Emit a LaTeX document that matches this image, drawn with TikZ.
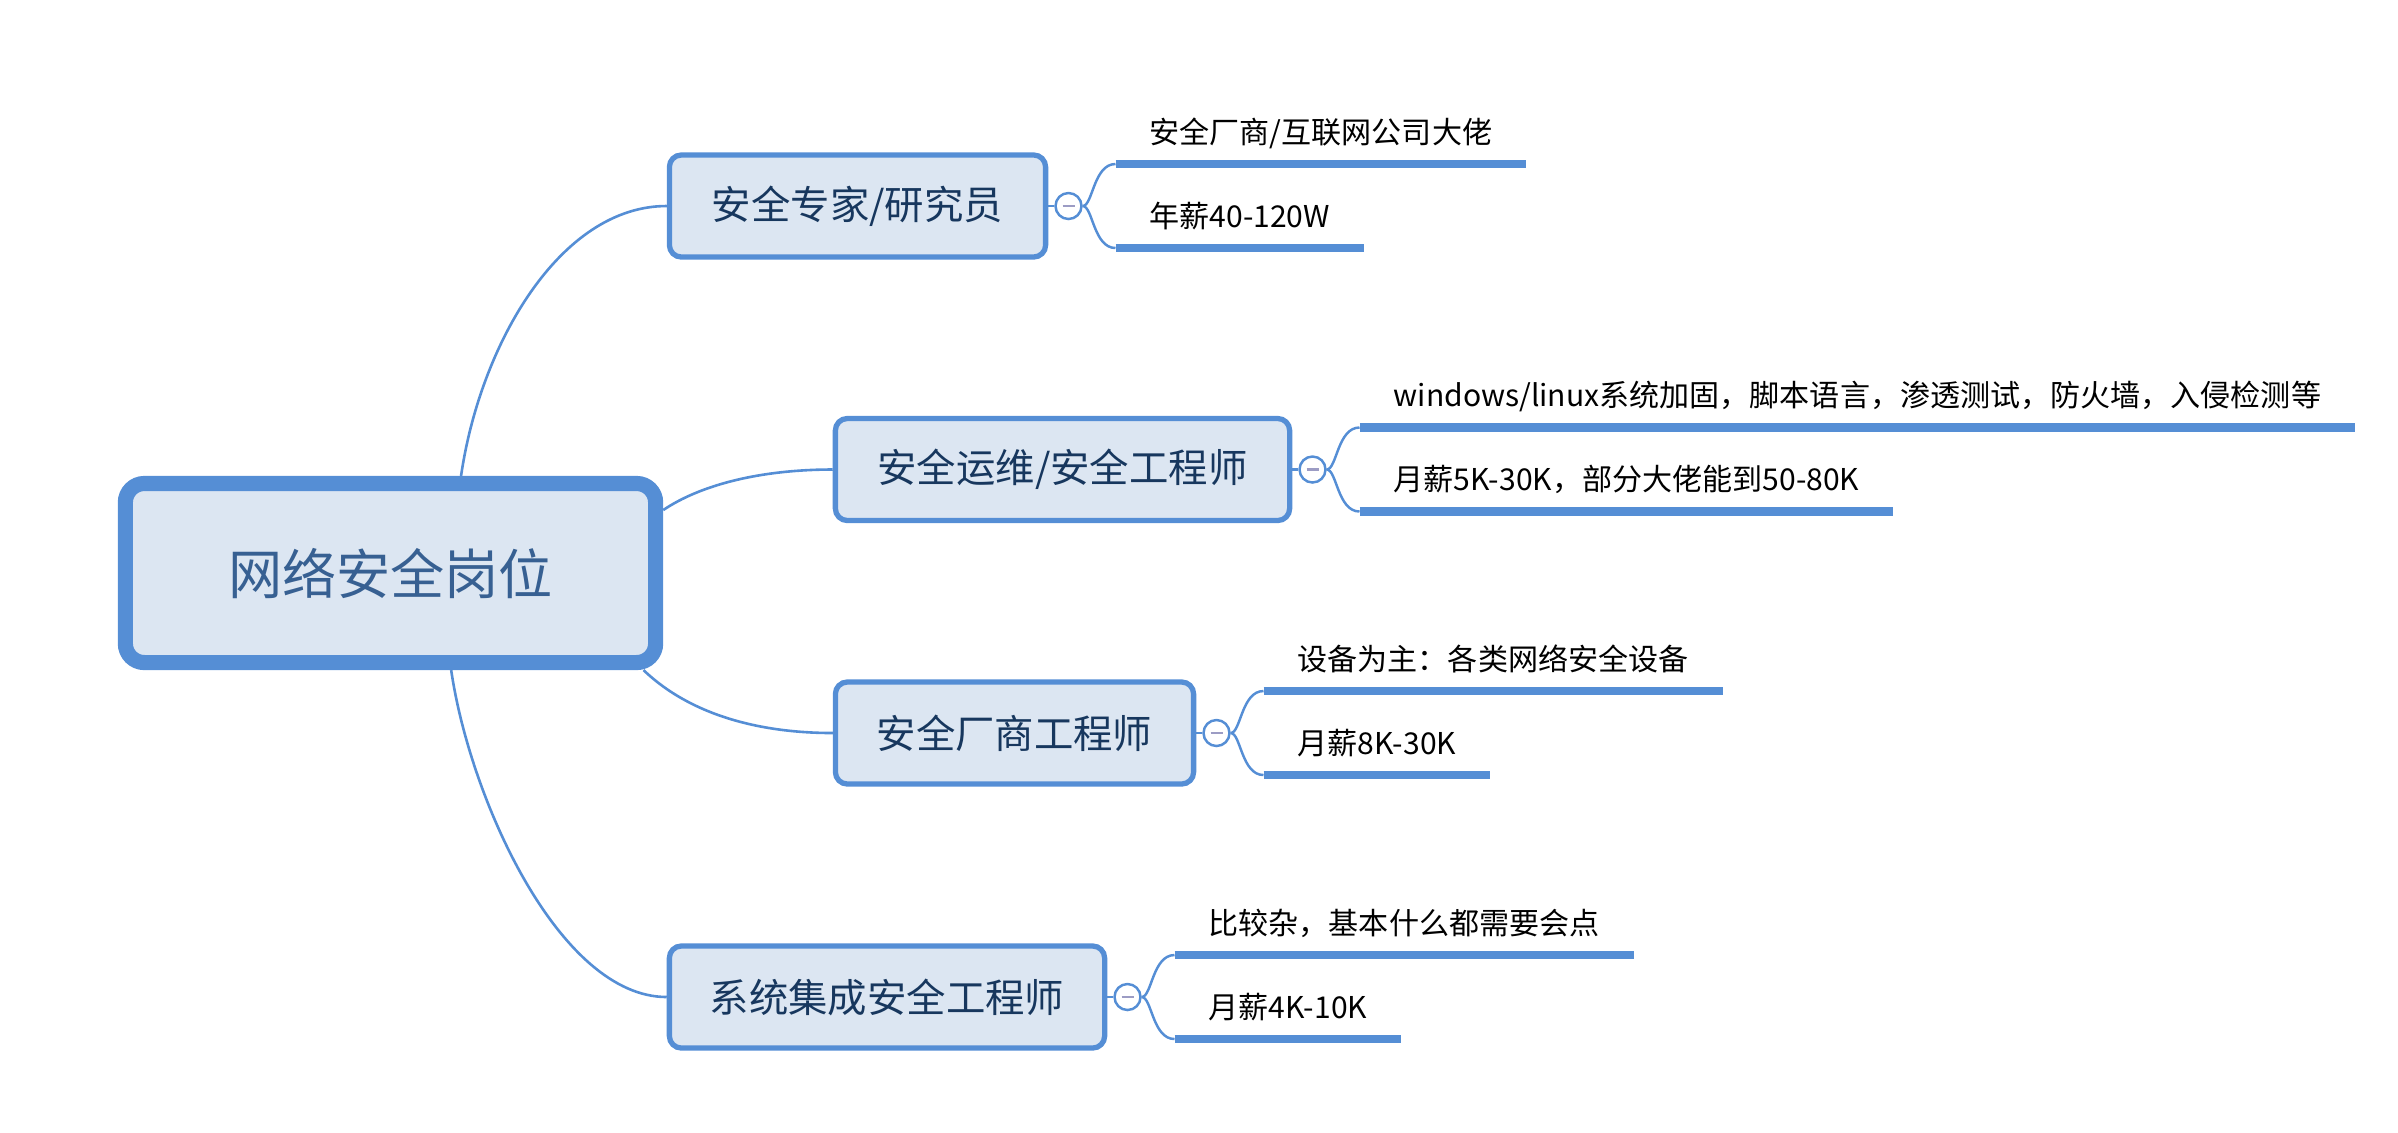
\documentclass[tikz,border=0pt]{standalone}
\usepackage{fontspec}
\setmainfont{Noto Sans CJK SC}
\usetikzlibrary{positioning,backgrounds}
\definecolor{mapblue}{HTML}{558ED5}
\definecolor{mapfill}{HTML}{DCE6F2}
\definecolor{branchtext}{HTML}{17375E}
\definecolor{roottext}{HTML}{376092}
\definecolor{foldgray}{HTML}{9C9CC4}
\tikzset{
  rootbox/.style={draw=mapblue, fill=mapfill, line width=4.3pt, rounded corners=5.4pt,
    minimum width=5.3cm, minimum height=1.79cm, inner sep=0pt,
    text=roottext, font=\fontsize{15.4pt}{18pt}\selectfont},
  branchbox/.style={draw=mapblue, fill=mapfill, line width=1.5pt, rounded corners=3.4pt,
    minimum height=1.02cm, inner sep=0pt,
    text=branchtext, font=\fontsize{11.2pt}{13pt}\selectfont},
  fold/.style={circle, draw=mapblue, fill=white, line width=0.7pt,
    minimum size=0.26cm, inner sep=0pt},
  minusbar/.style={draw=foldgray, line width=0.8pt},
  leaf/.style={anchor=south west, inner xsep=9.7pt, inner ysep=4.4pt, text depth=1.5pt,
    outer sep=0pt, font=\fontsize{8.55pt}{10pt}\selectfont},
  leafline/.style={draw=mapblue, line width=2.3pt},
  limb/.style={draw=mapblue, line width=0.74pt},
  twig/.style={draw=mapblue, line width=0.7pt}
}

\begin{document}
\begin{tikzpicture}[x=0.01cm,y=-0.01cm]
  \useasboundingbox (0,0) rectangle (2398,1132);
  \node[rootbox] (root) at (390.5,573) {网络安全岗位};
  \node[branchbox, minimum width=3.76cm] (b1) at (857.5,206) {安全专家/研究员};
  \node[branchbox, minimum width=4.54cm] (b2) at (1062.5,469.5) {安全运维/安全工程师};
  \node[branchbox, minimum width=3.58cm] (b3) at (1014.5,733) {安全厂商工程师};
  \node[branchbox, minimum width=4.35cm] (b4) at (887,997) {系统集成安全工程师};
  % fold buttons next to each branch
  \foreach \i in {1,...,4}
    \node[fold, right=0.06cm of b\i] (f\i) {};
  % leaves: text sits on a thick line
  \node[leaf] (up1) at ([shift={(47,-42)}]f1.center) {安全厂商/互联网公司大佬};
  \node[leaf] (lo1) at ([shift={(47,42)}]f1.center) {年薪40-120W};
  \node[leaf] (up2) at ([shift={(47,-42)}]f2.center) {windows/linux系统加固，脚本语言，渗透测试，防火墙，入侵检测等};
  \node[leaf] (lo2) at ([shift={(47,42)}]f2.center) {月薪5K-30K，部分大佬能到50-80K};
  \node[leaf] (up3) at ([shift={(47,-42)}]f3.center) {设备为主：各类网络安全设备};
  \node[leaf] (lo3) at ([shift={(47,42)}]f3.center) {月薪8K-30K};
  \node[leaf] (up4) at ([shift={(47,-42)}]f4.center) {比较杂，基本什么都需要会点};
  \node[leaf] (lo4) at ([shift={(47,42)}]f4.center) {月薪4K-10K};
  \foreach \i in {1,...,4} {
    \draw[twig] (b\i) -- (f\i);
    \draw[minusbar] ([shift={(-6,0)}]f\i.center) -- ([shift={(6,0)}]f\i.center);
    \draw[twig] (f\i.east) .. controls +(10,0) and +(-22,0) .. (up\i.south west);
    \draw[twig] (f\i.east) .. controls +(10,0) and +(-22,0) .. (lo\i.south west);
    \draw[leafline] (up\i.south west) -- (up\i.south east);
    \draw[leafline] (lo\i.south west) -- (lo\i.south east);
  }
  % root to branches, behind the boxes
  \begin{scope}[on background layer]
    \draw[limb] (root.54) .. controls +(19,-131) and +(-107,0) .. (b1.west);
    \draw[limb] (root.13) .. controls +(37,-25) and +(-73,0) .. (b2.west);
    \draw[limb] (root.-21) .. controls +(47,45) and +(-73,0) .. (b3.west);
    \draw[limb] (root.-58) .. controls +(19,130) and +(-107,0) .. (b4.west);
  \end{scope}
\end{tikzpicture}
\end{document}
